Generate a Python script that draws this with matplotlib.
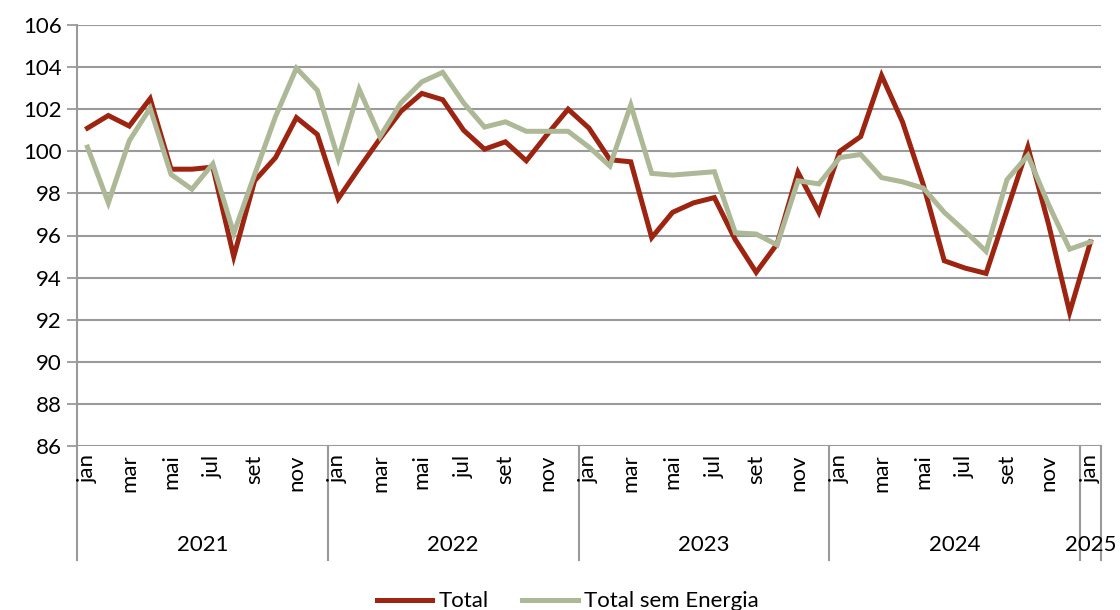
import numpy as np
import matplotlib
matplotlib.use("Agg")
import matplotlib.pyplot as plt
from matplotlib.lines import Line2D

plt.rcParams['font.family'] = ['Lato', 'DejaVu Sans']

# monthly index, jan 2021 .. jan 2025
month_names = ["jan", "fev", "mar", "abr", "mai", "jun", "jul", "ago", "set", "out", "nov", "dez"]
years = ["2021", "2022", "2023", "2024", "2025"]
months_per_year = [12, 12, 12, 12, 1]

total = [101.1, 101.7, 101.2, 102.5, 99.15, 99.15, 99.25, 95.0, 98.6, 99.7, 101.6, 100.8,
         97.75, 99.2, 100.6, 101.9, 102.75, 102.45, 101.0, 100.1, 100.45, 99.55, 100.8, 102.0,
         101.1, 99.6, 99.5, 95.9, 97.1, 97.55, 97.8, 95.8, 94.25, 95.6, 99.0, 97.1,
         100.0, 100.7, 103.6, 101.4, 98.4, 94.8, 94.45, 94.2, 97.2, 100.2, 96.5, 92.35,
         95.7]
total_sem_energia = [100.2, 97.55, 100.5, 102.05, 98.9, 98.2, 99.4, 96.1, 98.9, 101.65, 103.95, 102.9,
                     99.65, 102.95, 100.7, 102.3, 103.3, 103.75, 102.3, 101.15, 101.4, 100.95, 100.95, 100.95,
                     100.2, 99.3, 102.2, 98.95, 98.87, 98.95, 99.03, 96.13, 96.07, 95.55, 98.6, 98.45,
                     99.7, 99.85, 98.75, 98.55, 98.25, 97.1, 96.2, 95.25, 98.65, 99.8, 97.45, 95.35,
                     95.7]

red = "#9C2410"
green = "#ADB896"
grid_col = "#9A9A9A"
fs = 16

fig = plt.figure(figsize=(11.2, 6.1), dpi=100)
ax = fig.add_axes([77 / 1120, 1 - 446 / 610, (1101 - 77) / 1120, (446 - 25) / 610])

x = np.arange(len(total))
ax.plot(x, total, color=red, lw=3.6, solid_joinstyle='miter', label="Total", zorder=3)
ax.plot(x, total_sem_energia, color=green, lw=3.6, solid_joinstyle='miter', label="Total sem Energia", zorder=4)

ax.set_xlim(-0.5, len(total) - 0.5)
ax.set_ylim(86, 106)
ax.set_yticks(np.arange(86, 107, 2))
ax.tick_params(axis='y', labelsize=fs, length=7, width=1.3, color=grid_col, pad=4)
ax.set_xticks([])
ax.grid(axis='y', color=grid_col, lw=1.5)
ax.set_axisbelow(True)
for side in ["top", "right", "bottom"]:
    ax.spines[side].set_visible(False)
ax.spines["left"].set_color(grid_col)
ax.spines["left"].set_linewidth(1.5)

# multi-level category axis
trans = ax.get_xaxis_transform()
line_bottom = -(560 - 446) / 421
pos = 0
bounds = [-0.5]
for yr, n in zip(years, months_per_year):
    for m in range(n):
        if m % 2 == 0:
            ax.text(pos + m, -0.02, month_names[m], transform=trans, rotation=90,
                    ha='center', va='top', fontsize=fs)
    ax.text(pos + (n - 1) / 2, -(545 - 446) / 421, yr, transform=trans,
            ha='center', va='center', fontsize=fs)
    pos += n
    bounds.append(pos - 0.5)
for b in bounds:
    ax.add_line(Line2D([b, b], [0, line_bottom], transform=trans, color=grid_col,
                       lw=1.5, clip_on=False))

fig.legend(loc='lower center', bbox_to_anchor=(0.507, -0.035), ncol=2, frameon=False,
           fontsize=fs, handlelength=2.5, columnspacing=1.5, handletextpad=0.3)

fig.savefig("out.png", dpi=100)
